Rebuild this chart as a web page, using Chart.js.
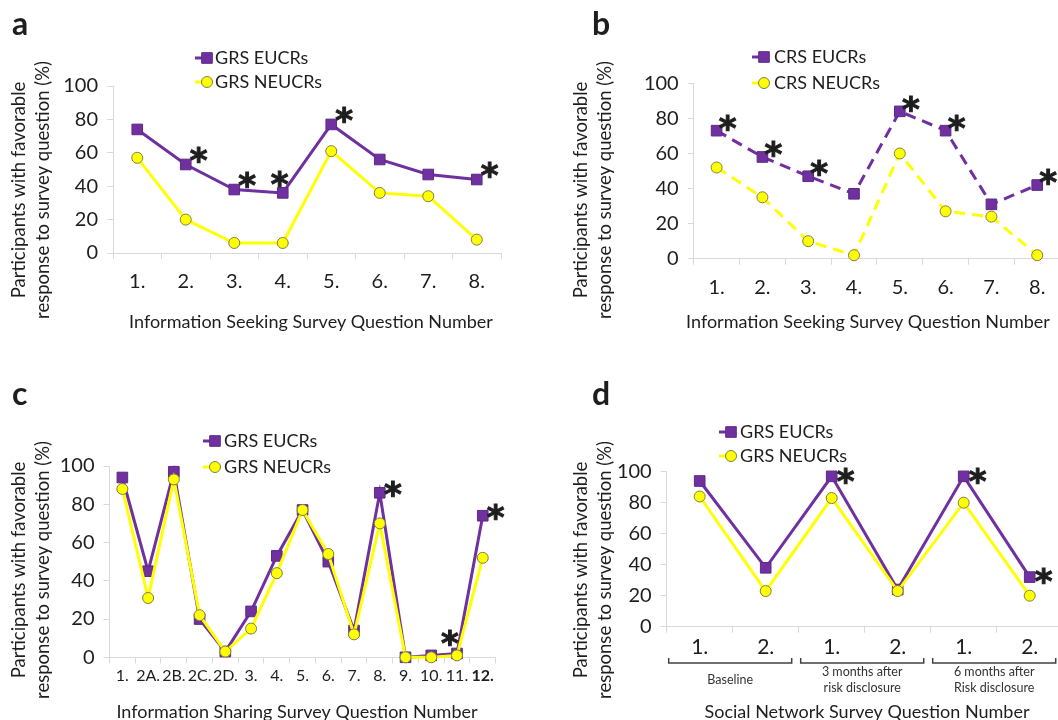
<!DOCTYPE html>
<html lang="en">
<head>
<meta charset="UTF-8">
<title>Favorable responses by survey question</title>
<script src="https://cdn.jsdelivr.net/npm/chart.js"></script>
<style>
  * { margin: 0; padding: 0; box-sizing: border-box; }
  body { width: 1058px; height: 720px; overflow: hidden; background: #fff; position: relative; }
  canvas { position: absolute; }
</style>
</head>
<body>
<canvas id="chartA"></canvas>
<canvas id="chartB"></canvas>
<canvas id="chartC"></canvas>
<canvas id="chartD"></canvas>
<script>
// ---- data ----
const seekingQuestions = ['1.', '2.', '3.', '4.', '5.', '6.', '7.', '8.'];
const grsEucrSeeking = [74, 53, 38, 36, 77, 56, 47, 44];
const grsNeucrSeeking = [57, 20, 6, 6, 61, 36, 34, 8];
const grsSeekingStars = [1, 2, 3, 4, 7];

const crsEucrSeeking = [73, 58, 47, 37, 84, 73, 31, 42];
const crsNeucrSeeking = [52, 35, 10, 2, 60, 27, 24, 2];
const crsSeekingStars = [0, 1, 2, 4, 5, 7];

const sharingQuestions = ['1.', '2A.', '2B.', '2C.', '2D.', '3.', '4.', '5.', '6.', '7.', '8.', '9.', '10.', '11.', '12.'];
const grsEucrSharing = [94, 45, 97, 20, 3, 24, 53, 77, 50, 14, 86, 0, 1, 2, 74];
const grsNeucrSharing = [88, 31, 93, 22, 3, 15, 44, 77, 54, 12, 70, 0, 0, 1, 52];
const sharingStars = [10, 13, 14];

const networkQuestions = ['1.', '2.', '1.', '2.', '1.', '2.'];
const grsEucrNetwork = [94, 38, 97, 24, 97, 32];
const grsNeucrNetwork = [84, 23, 83, 23, 80, 20];
const networkStars = [2, 4, 5];
const networkGroups = [['Baseline'], ['3 months after', 'risk disclosure'], ['6 months after', 'Risk disclosure']];

const yTicks = [0, 20, 40, 60, 80, 100];
const yTitle = ['Participants with favorable', 'response to survey question (%)'];

// ---- styling ----
const PURPLE = '#7030a0';
const YELLOW = '#ffff00';
const AXIS = '#d9d9d9';
const TEXT = '#1e1e1e';
const FONT = 'Lato';

function drawMarker(ctx, x, y, kind) {
  ctx.save();
  ctx.setLineDash([]);
  ctx.lineWidth = 1;
  if (kind === 'rect') {
    ctx.fillStyle = PURPLE;
    ctx.strokeStyle = '#5c2a85';
    ctx.beginPath();
    ctx.rect(x - 5.3, y - 5.3, 10.6, 10.6);
    ctx.fill();
    ctx.stroke();
  } else {
    ctx.fillStyle = YELLOW;
    ctx.strokeStyle = '#7f7f3f';
    ctx.beginPath();
    ctx.arc(x, y, 5.5, 0, Math.PI * 2);
    ctx.fill();
    ctx.stroke();
  }
  ctx.restore();
}

const decor = {
  id: 'decor',
  afterDraw(chart, args, o) {
    const ctx = chart.ctx;
    const xs = chart.scales.x, ys = chart.scales.y;
    ctx.save();
    ctx.fillStyle = TEXT;

    // panel letter
    ctx.font = `bold 32px ${FONT}`;
    ctx.textAlign = 'left';
    ctx.textBaseline = 'alphabetic';
    ctx.fillText(o.letter, o.letterPos[0], o.letterPos[1]);

    // legend
    o.legend.forEach(item => {
      const [mx, my] = item.pos;
      ctx.strokeStyle = item.color;
      ctx.lineWidth = 3;
      ctx.setLineDash([]);
      ctx.beginPath();
      ctx.moveTo(mx - 12, my);
      ctx.lineTo(mx, my);
      ctx.stroke();
      drawMarker(ctx, mx, my, item.kind);
      ctx.fillStyle = TEXT;
      ctx.font = `18px ${FONT}`;
      ctx.textAlign = 'left';
      ctx.textBaseline = 'middle';
      ctx.fillText(item.text, o.legendTextX, my);
    });

    // y title (two lines, rotated)
    ctx.font = `18.5px ${FONT}`;
    ctx.textAlign = 'center';
    ctx.textBaseline = 'middle';
    yTitle.forEach((line, i) => {
      ctx.save();
      ctx.translate(o.yTitleX[i], o.yTitleY);
      ctx.rotate(-Math.PI / 2);
      ctx.fillText(line, 0, 0);
      ctx.restore();
    });

    // x title
    ctx.font = `18px ${FONT}`;
    ctx.fillText(o.xTitle, o.xTitlePos[0], o.xTitlePos[1]);

    // significance asterisks
    ctx.font = `bold 34px "DejaVu Sans"`;
    ctx.strokeStyle = TEXT;
    ctx.lineWidth = 1;
    const m = ctx.measureText('*');
    const mid = (m.actualBoundingBoxAscent - m.actualBoundingBoxDescent) / 2;
    ctx.textBaseline = 'alphabetic';
    o.stars.forEach(i => {
      const [dx, dy] = o.starNudge[i] || o.starNudge.all;
      const px = xs.getPixelForValue(i) + dx;
      const py = ys.getPixelForValue(o.starValues[i]) + dy + mid + 8;
      ctx.fillText('*', px, py);
      ctx.strokeText('*', px, py);
    });

    // group brackets under the x axis
    if (o.groups) {
      const half = (xs.getPixelForValue(1) - xs.getPixelForValue(0)) / 2;
      o.groups.forEach((lines, g) => {
        const x0 = xs.getPixelForValue(g * 2) - half + 2;
        const x1 = xs.getPixelForValue(g * 2 + 1) + half - 7;
        ctx.strokeStyle = '#404040';
        ctx.lineWidth = 1.5;
        ctx.beginPath();
        ctx.moveTo(x0, o.bracketY - 5);
        ctx.lineTo(x0, o.bracketY);
        ctx.lineTo(x1, o.bracketY);
        ctx.lineTo(x1, o.bracketY - 5);
        ctx.stroke();
        ctx.fillStyle = '#333';
        ctx.font = `12.5px ${FONT}`;
        ctx.textAlign = 'center';
        ctx.textBaseline = 'middle';
        const cx = (x0 + x1) / 2;
        const y0 = o.groupLabelY - (lines.length - 1) * 7.7;
        lines.forEach((t, k) => ctx.fillText(t, cx, y0 + k * 15.4));
      });
    }
    ctx.restore();
  }
};

function makePanel(p) {
  const canvas = document.getElementById(p.id);
  canvas.width = p.width;
  canvas.height = p.height;
  canvas.style.left = p.left + 'px';
  canvas.style.top = p.top + 'px';
  const dash = p.dashed ? [11, 7] : [];
  const area = p.area;
  return new Chart(canvas, {
    type: 'line',
    data: {
      labels: p.labels,
      datasets: [
        {
          label: p.names[0], data: p.eucr, order: 1, clip: false,
          borderColor: PURPLE, borderWidth: 3, borderDash: dash, tension: 0,
          pointStyle: 'rect', pointRadius: 7.5, pointBackgroundColor: PURPLE,
          pointBorderColor: '#5c2a85', pointBorderWidth: 1
        },
        {
          label: p.names[1], data: p.neucr, order: 0, clip: false,
          borderColor: YELLOW, borderWidth: 3, borderDash: dash, tension: 0,
          pointStyle: 'circle', pointRadius: 5.5, pointBackgroundColor: YELLOW,
          pointBorderColor: '#7f7f3f', pointBorderWidth: 1
        }
      ]
    },
    options: {
      responsive: false,
      animation: false,
      events: [],
      layout: { padding: { left: 0, top: area.t, right: p.width - area.r, bottom: 0 } },
      plugins: {
        legend: { display: false },
        tooltip: { enabled: false },
        decor: {
          letter: p.letter, letterPos: p.letterPos,
          legend: [
            { text: p.names[0], kind: 'rect', color: PURPLE, pos: p.legendPos[0] },
            { text: p.names[1], kind: 'circle', color: YELLOW, pos: p.legendPos[1] }
          ],
          legendTextX: p.legendTextX,
          yTitleX: p.yTitleX, yTitleY: p.yTitleY,
          xTitle: p.xTitle, xTitlePos: p.xTitlePos,
          stars: p.stars, starValues: p.eucr, starNudge: p.starNudge,
          groups: p.groups, bracketY: p.bracketY, groupLabelY: p.groupLabelY
        }
      },
      scales: {
        x: {
          type: 'category',
          offset: true,
          grid: { offset: true, drawOnChartArea: false, color: AXIS, tickLength: 6 },
          border: { color: AXIS, width: 1 },
          ticks: {
            color: TEXT, padding: p.xTickPad, maxRotation: 0, minRotation: 0, autoSkip: false,
            font: p.xTickFont
          },
          afterFit: s => { s.height = p.height - area.b; }
        },
        y: {
          min: 0, max: 100,
          afterBuildTicks: s => { s.ticks = yTicks.map(v => ({ value: v })); },
          grid: { drawOnChartArea: false, color: AXIS, tickLength: 6 },
          border: { color: AXIS, width: 1 },
          ticks: { color: TEXT, padding: 9, font: { family: FONT, size: 20 } },
          afterFit: s => { s.width = area.l; }
        }
      }
    },
    plugins: [decor]
  });
}

makePanel({
  id: 'chartA', left: 0, top: 0, width: 529, height: 345,
  area: { l: 113, t: 86, r: 501, b: 253 },
  labels: seekingQuestions, eucr: grsEucrSeeking, neucr: grsNeucrSeeking,
  names: ['GRS EUCRs', 'GRS NEUCRs'], dashed: false,
  stars: grsSeekingStars, starNudge: { all: [13, -9], 3: [-3, -13] },
  letter: 'a', letterPos: [12, 35],
  legendPos: [[207, 58], [207, 82]], legendTextX: 215,
  yTitleX: [19, 43], yTitleY: 190,
  xTitle: 'Information Seeking Survey Question Number', xTitlePos: [311, 322],
  xTickFont: { family: FONT, size: 20 }, xTickPad: 11
});

makePanel({
  id: 'chartB', left: 529, top: 0, width: 570, height: 345,
  area: { l: 164.7, t: 83.3, r: 531.1, b: 258.7 },
  labels: seekingQuestions, eucr: crsEucrSeeking, neucr: crsNeucrSeeking,
  names: ['CRS EUCRs', 'CRS NEUCRs'], dashed: true,
  stars: crsSeekingStars, starNudge: { all: [11, -7] },
  letter: 'b', letterPos: [63, 35],
  legendPos: [[235, 57], [235, 83]], legendTextX: 245,
  yTitleX: [52, 76], yTitleY: 190,
  xTitle: 'Information Seeking Survey Question Number', xTitlePos: [339, 322],
  xTickFont: { family: FONT, size: 20 }, xTickPad: 11
});

makePanel({
  id: 'chartC', left: 0, top: 370, width: 529, height: 350,
  area: { l: 109.5, t: 96, r: 495.6, b: 287.3 },
  labels: sharingQuestions, eucr: grsEucrSharing, neucr: grsNeucrSharing,
  names: ['GRS EUCRs', 'GRS NEUCRs'], dashed: false,
  stars: sharingStars, starNudge: { all: [13, -3], 13: [-7, -15] },
  letter: 'c', letterPos: [12, 35],
  legendPos: [[215, 71], [215, 97]], legendTextX: 224,
  yTitleX: [19, 43], yTitleY: 200,
  xTitle: 'Information Sharing Survey Question Number', xTitlePos: [297, 342],
  xTickFont: ctx => ({ family: FONT, size: 16, weight: ctx.index === sharingQuestions.length - 1 ? 'bold' : 'normal' }),
  xTickPad: 3
});

makePanel({
  id: 'chartD', left: 529, top: 370, width: 570, height: 350,
  area: { l: 137.7, t: 101.7, r: 533.7, b: 256.7 },
  labels: networkQuestions, eucr: grsEucrNetwork, neucr: grsNeucrNetwork,
  names: ['GRS EUCRs', 'GRS NEUCRs'], dashed: false,
  stars: networkStars, starNudge: { all: [14, 0] },
  letter: 'd', letterPos: [63, 35],
  legendPos: [[202, 62], [202, 86]], legendTextX: 211,
  yTitleX: [52, 76], yTitleY: 200,
  xTitle: 'Social Network Survey Question Number', xTitlePos: [338, 342],
  xTickFont: { family: FONT, size: 21 }, xTickPad: 2,
  groups: networkGroups, bracketY: 293, groupLabelY: 310
});
</script>
</body>
</html>
